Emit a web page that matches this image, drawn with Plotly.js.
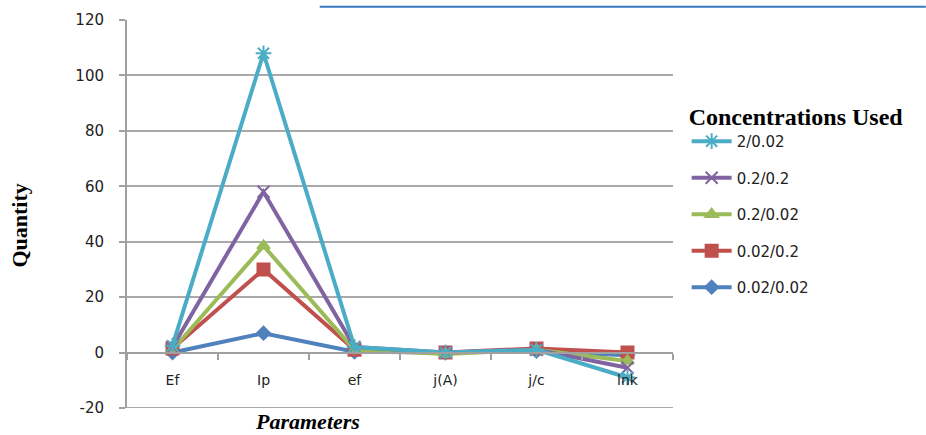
<!DOCTYPE html>
<html>
<head>
<meta charset="utf-8">
<script src="https://cdn.plot.ly/plotly-3.0.1.min.js"></script>
<style>html,body{margin:0;padding:0;background:#fff;}#chart{width:926px;height:435px;}</style>
</head>
<body>
<div id="chart"></div>
<script>
const categories = ["Ef", "Ip", "ef", "j(A)", "j/c", "lnk"];
const seriesNames = ["0.02/0.02", "0.02/0.2", "0.2/0.02", "0.2/0.2", "2/0.02"];
const v_002_002 = [0, 7, 0.3, 0, 0.5, -1];
const v_002_02 = [1.5, 30, 1, 0, 1.5, 0];
const v_02_002 = [1, 38.5, 1, -0.5, 1, -3];
const v_02_02 = [2, 58, 2, 0, 1, -5.5];
const v_2_002 = [2.5, 108, 2, 0, 1, -9];
const yTicks = [-20, 0, 20, 40, 60, 80, 100, 120];

const seriesValues = [v_002_002, v_002_02, v_02_002, v_02_02, v_2_002];
const colors = ["#4F81BD", "#C0504D", "#9BBB59", "#8064A2", "#4BACC6"];
const symbols = ["diamond", "square", "triangle-up", "x-thin-open", "asterisk-open"];
const sizes = [10, 12, 11, 12, 13];

const traces = seriesNames.map((name, i) => ({
  type: "scatter",
  mode: "lines+markers",
  name: name,
  legendgroup: "g" + i,
  legendrank: 1000 - i,
  x: categories,
  y: seriesValues[i],
  line: {color: colors[i], width: 4},
  marker: {symbol: symbols[i], size: sizes[i], color: colors[i], line: {color: colors[i], width: 2}},
  cliponaxis: false
}));

const layout = {
  width: 926, height: 435,
  margin: {l: 127, r: 253, t: 20, b: 27},
  paper_bgcolor: "#ffffff",
  plot_bgcolor: "#ffffff",
  showlegend: true,
  legend: {
    x: 1.025, xanchor: "left", y: 0.81, yanchor: "top",
    traceorder: "grouped",
    tracegroupgap: 14,
    itemwidth: 40,
    borderwidth: 0,
    font: {family: "DejaVu Sans", size: 15, color: "#222"},
    title: {text: "<b>Concentrations Used</b>", side: "top", font: {family: "Liberation Serif", size: 24, color: "#000"}}
  },
  xaxis: {
    type: "category",
    anchor: "free",
    position: 20 / 140,
    range: [-0.5, 5.5],
    showline: true, linecolor: "#a0a0a0", linewidth: 2,
    ticks: "outside", tickson: "boundaries", ticklen: 6, tickcolor: "#a0a0a0", tickwidth: 2,
    ticklabelstandoff: 15,
    showgrid: false, zeroline: false,
    tickfont: {family: "DejaVu Sans", size: 14, color: "#222"}
  },
  yaxis: {
    range: [-20, 120],
    tickvals: yTicks,
    ticktext: yTicks.map(String),
    showline: true, linecolor: "#a0a0a0", linewidth: 2,
    ticks: "outside", ticklen: 6, tickcolor: "#a0a0a0", tickwidth: 2,
    ticklabelstandoff: 12,
    showgrid: true, gridcolor: "#a9a9a9", gridwidth: 2,
    zeroline: false,
    tickfont: {family: "DejaVu Sans", size: 15, color: "#222"}
  },
  annotations: [
    {text: "<b>Quantity</b>", xref: "paper", yref: "paper", x: -0.196, xanchor: "center", y: 0.47, yanchor: "middle", textangle: -90,
     showarrow: false, font: {family: "Liberation Serif", size: 22, color: "#000"}},
    {text: "<b><i>Parameters</i></b>", xref: "paper", yref: "paper", x: 0.33, xanchor: "center", y: -0.036, yanchor: "middle",
     showarrow: false, font: {family: "Liberation Serif", size: 22, color: "#000"}}
  ],
  shapes: [
    {type: "line", xref: "paper", yref: "y", x0: 0, x1: 1, y0: -20, y1: -20,
     line: {color: "#a9a9a9", width: 2}, layer: "below"},
    {type: "line", xref: "paper", yref: "paper", x0: 0.353, x1: 1.463, y0: 1.034, y1: 1.034,
     line: {color: "#3a78c0", width: 2}}
  ]
};

Plotly.newPlot("chart", traces, layout, {displayModeBar: false, staticPlot: true});
</script>
</body>
</html>
